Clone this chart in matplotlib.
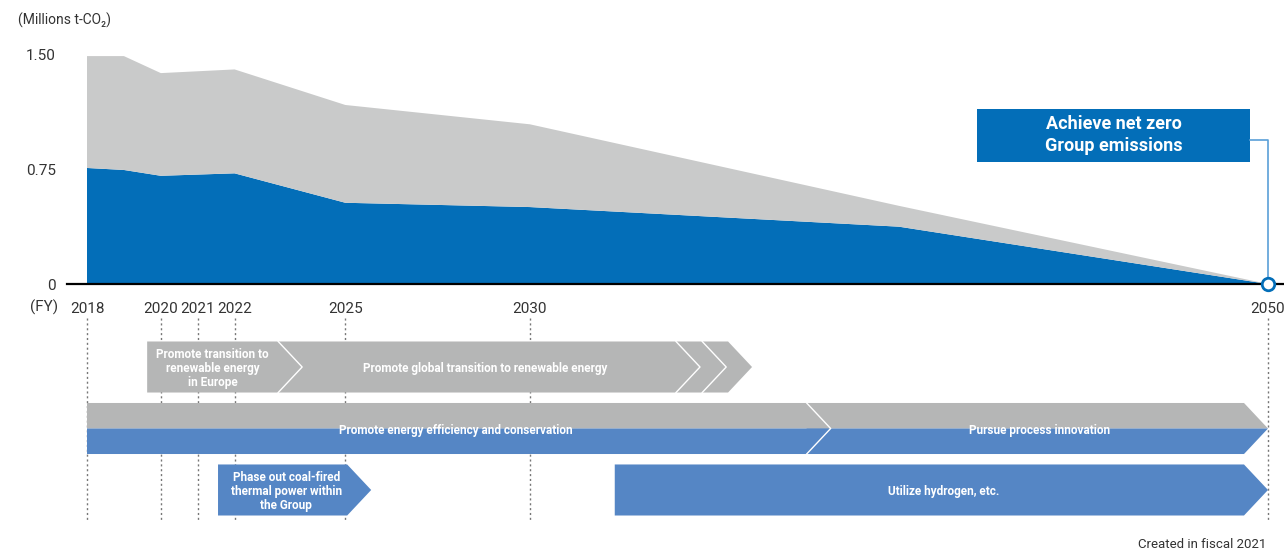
import matplotlib
matplotlib.use("Agg")
import matplotlib.pyplot as plt
from matplotlib.patches import Polygon, Rectangle
import numpy as np

plt.rcParams['font.family'] = ['Roboto', 'DejaVu Sans']

# --- data ---
years = [2018, 2019, 2020, 2022, 2025, 2030, 2040, 2050]
blue_vals = [0.757, 0.744, 0.706, 0.722, 0.530, 0.502, 0.374, 0.0]
total_vals = [1.487, 1.487, 1.376, 1.400, 1.168, 1.042, 0.510, 0.0]
gray_vals = list(np.array(total_vals) - np.array(blue_vals))

tick_years = [2018, 2020, 2021, 2022, 2025, 2030, 2050]
y_ticks = [0, 0.75, 1.50]
y_ticklabels = ['0', '0.75', '1.50']

# roadmap tasks (row, start year, body end year, label, style)
task_rows = [0, 0, 1, 1, 2, 2]
task_start = [2019.63, 2023.18, 2018.0, 2037.5, 2021.55, 2032.3]
task_end = [2023.18, 2035.37, 2037.5, 2049.35, 2025.05, 2049.35]
task_labels = ['Promote transition to\nrenewable energy\nin Europe',
               'Promote global transition to renewable energy',
               'Promote energy efficiency and conservation',
               'Pursue process innovation',
               'Phase out coal-fired\nthermal power within\nthe Group',
               'Utilize hydrogen, etc.']
task_style = ['gray', 'gray', 'split', 'split', 'blue', 'blue']
task_label_x = [2021.4, 2028.8, 2028.0, 2043.8, 2023.4, 2041.2]
extra_chevrons = [2033.96, 2034.67]   # fast-forward marks on global transition arrow

c_area_blue = '#036EB8'
c_area_gray = '#C9CACA'
c_bar_gray = '#B5B6B6'
c_bar_blue = '#5586C5'
c_line = '#5AA0D8'

fig = plt.figure(figsize=(12.84, 5.5), dpi=100)
W, H = 1284, 550
left = 67 / W
width = (W - 67) / W
xlim = (2017.458, 2050.434)

# --- emissions area chart ---
ax = fig.add_axes([left, (H - 284) / H, width, (284 - 40) / H])
ax.stackplot(years, blue_vals, gray_vals, colors=[c_area_blue, c_area_gray], linewidth=0)
ax.set_xlim(*xlim)
ax.set_ylim(0, 1.592)
for s in ['top', 'right', 'left']:
    ax.spines[s].set_visible(False)
ax.spines['bottom'].set_linewidth(1.6)
ax.spines['bottom'].set_color('black')
ax.set_yticks(y_ticks)
ax.set_yticklabels(y_ticklabels)
ax.set_xticks(tick_years)
ax.set_xticklabels([str(y) for y in tick_years])
ax.tick_params(axis='both', length=0, labelsize=11, colors='#333333')
ax.tick_params(axis='y', pad=8)
ax.tick_params(axis='x', pad=13)
ax.text(2016.85, -0.15, '(FY)', ha='center', va='center', fontsize=11, color='#333333', clip_on=False)
fig.text(18 / W, 1 - 20 / H, '(Millions t-CO\u2082)', ha='left', va='center', fontsize=10, color='#333333')

# net zero callout
ax.add_patch(Rectangle((2042.12, 0.796), 2049.52 - 2042.12, 1.141 - 0.796,
                       facecolor=c_area_blue, edgecolor='none', zorder=3))
ax.text((2042.12 + 2049.52) / 2, 0.97, 'Achieve net zero\nGroup emissions', ha='center', va='center',
        color='white', fontsize=13, fontweight='bold', linespacing=1.3, zorder=4)
ax.plot([2049.52, 2050, 2050], [0.939, 0.939, 0], color=c_line, lw=1.2, zorder=3, clip_on=False)
ax.plot([2050], [0], marker='o', ms=9, mfc='white', mec=c_area_blue, mew=2, zorder=5, clip_on=False)

# --- roadmap arrows ---
axg = fig.add_axes([left, 0, width, (H - 295) / H])
axg.set_xlim(*xlim)
axg.set_ylim(2.976, -1.171)
axg.axis('off')

for yr in tick_years:
    axg.plot([yr, yr], [-0.797, 2.52], color='#777777', lw=1, ls=(0, (1.5, 2)), zorder=1)

d = 0.65   # arrow tip depth in years
h = 0.415  # half height of a row


def chevron_line(x1, yc):
    axg.plot([x1, x1 + d, x1], [yc - h, yc, yc + h], color='white', lw=1, zorder=6)


# draw right-hand tasks first so the earlier arrow tips sit on top
for i in reversed(range(len(task_rows))):
    yc = task_rows[i]
    x0, x1 = task_start[i], task_end[i]
    if task_style[i] == 'split':
        top = [(x0, yc - h), (x1, yc - h), (x1 + d, yc), (x0, yc)]
        bot = [(x0, yc), (x1 + d, yc), (x1, yc + h), (x0, yc + h)]
        axg.add_patch(Polygon(top, closed=True, facecolor=c_bar_gray, edgecolor='none', zorder=2 + (5 - i) * 0.1))
        axg.add_patch(Polygon(bot, closed=True, facecolor=c_bar_blue, edgecolor='none', zorder=2 + (5 - i) * 0.1))
    else:
        pts = [(x0, yc - h), (x1, yc - h), (x1 + d, yc), (x1, yc + h), (x0, yc + h)]
        col = c_bar_gray if task_style[i] == 'gray' else c_bar_blue
        axg.add_patch(Polygon(pts, closed=True, facecolor=col, edgecolor='none', zorder=2 + (5 - i) * 0.1))
    axg.text(task_label_x[i], yc + 0.03, task_labels[i], ha='center', va='center', color='white',
             fontsize=8.5, fontweight='bold', linespacing=1.1, zorder=7)

# separators between consecutive arrows in the same row
chevron_line(task_end[0], task_rows[0])
chevron_line(task_end[2], task_rows[2])
for xc in extra_chevrons:
    chevron_line(xc, task_rows[0])

fig.text(1266 / W, 1 - 545 / H, 'Created in fiscal 2021', ha='right', va='center', fontsize=9.5, color='#333333')

fig.savefig('out.png', dpi=100)
